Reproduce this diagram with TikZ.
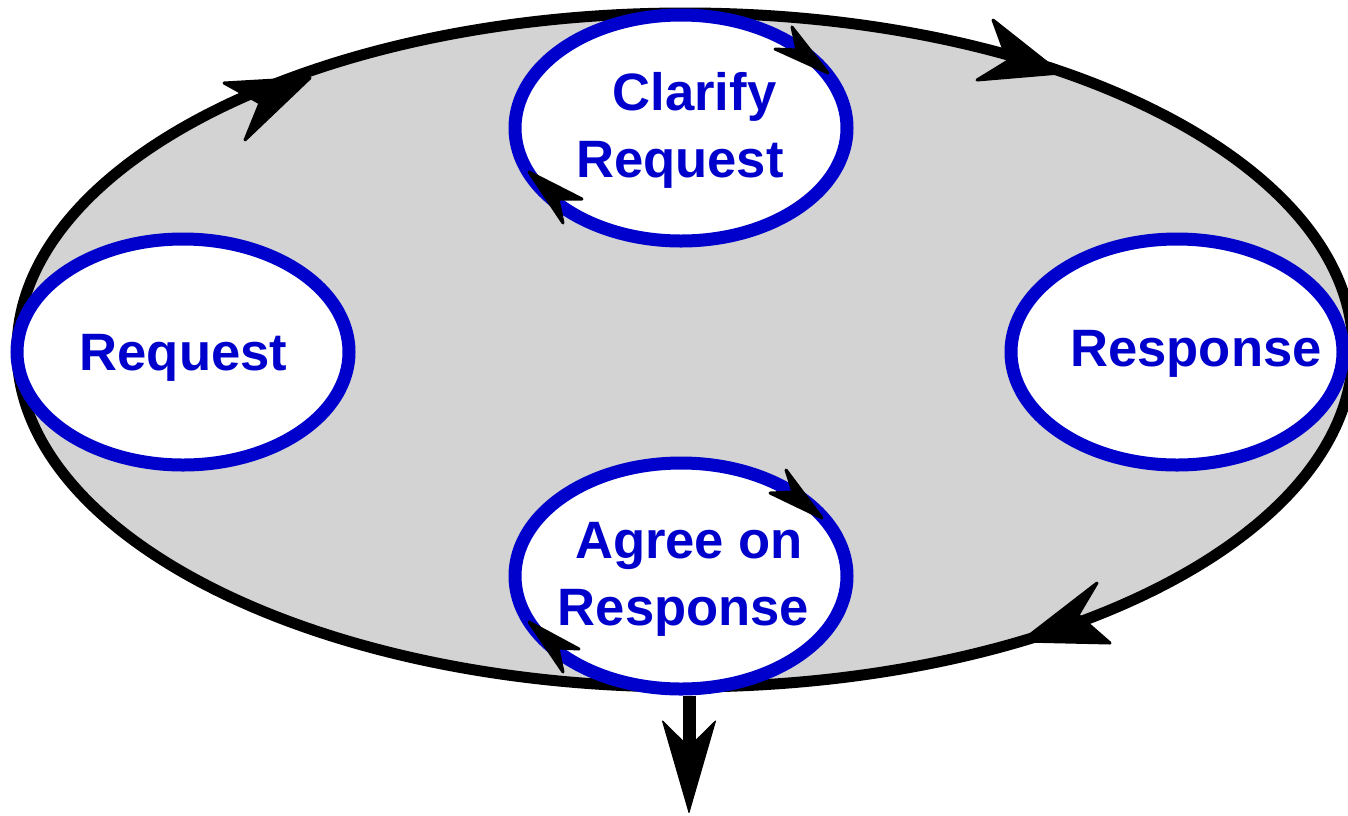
\documentclass[tikz,border=0pt]{standalone}
\usepackage{fontspec}
\setmainfont{Liberation Sans}
\usetikzlibrary{shapes.geometric, arrows.meta}
\definecolor{cblue}{RGB}{0,0,205}
\definecolor{cgray}{RGB}{211,211,211}
\begin{document}
\begin{tikzpicture}[x=1pt, y=1pt]
\tikzset{
  bubble/.style={ellipse, draw=cblue, line width=13pt, fill=white, inner sep=0pt,
                 minimum width=332pt, minimum height=226pt},
  lbl/.style={anchor=base, text=cblue, inner sep=0pt,
              font=\fontsize{52.6}{67}\selectfont\bfseries},
  head/.style={fill=black, draw=black, line width=3pt, line join=round},
}
\useasboundingbox (0,0) rectangle (1348,-815);
% outer cycle
\node[ellipse, draw=black, fill=cgray, line width=11pt, inner sep=0pt,
      minimum width=1336pt, minimum height=674pt] (loop) at (685,-350) {};
% bubbles
\node[bubble] (req) at (183,-352) {};
\node[bubble] (resp) at (1177,-352) {};
\node[bubble] (clar) at (681,-128) {};
\node[bubble] (agree) at (681,-576) {};
% texts
\node[lbl] (treq) at (183.5,-370) {Request};
\node[lbl] (tresp) at (1196,-366) {Response};
\node[lbl] (tcl1) at (694.5,-110) {Clarify};
\node[lbl] (tcl2) at (680,-177) {Request};
\node[lbl] (tag1) at (689,-558) {Agree on};
\node[lbl] (tag2) at (683.5,-625) {Response};
% arrowheads on the outer cycle
\path[head] (310,-78) -- (224,-83) -- (260,-103) -- (245,-140) -- cycle;
\path[head] (1060,-73) -- (993,-20) -- (1008,-61) -- (977,-80) -- cycle;
\path[head] (1022,-641) -- (1097,-583) -- (1078,-615) -- (1110,-643) -- cycle;
% arrowheads on the bubbles
\path[head] (828,-73) -- (792,-27) -- (797,-50) -- (775,-49) -- cycle;
\path[head] (529,-172) -- (582,-199) -- (558,-199) -- (563,-223) -- cycle;
\path[head] (822,-518) -- (786,-470) -- (793,-492) -- (770,-493) -- cycle;
\path[head] (529,-622) -- (579,-649) -- (558,-648) -- (563,-672) -- cycle;
% outgoing arrow
\coordinate (out) at (689,-813);
\draw[line width=13pt, -{Stealth[length=95pt, width=55pt, inset=27pt, line width=1pt, round]}]
  (agree.south -| out) -- (out);
\end{tikzpicture}
\end{document}
